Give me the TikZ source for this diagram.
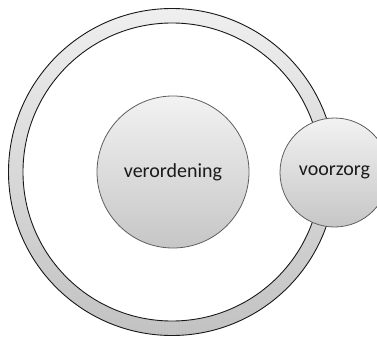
\documentclass[tikz,border=0pt]{standalone}
\usepackage{fontspec}
\setmainfont{Carlito}
\definecolor{ringtop}{HTML}{EFEFEF}
\definecolor{ringbot}{HTML}{C2C2C2}
\definecolor{disctop}{HTML}{F2F2F2}
\definecolor{discbot}{HTML}{C6C6C6}
\definecolor{discline}{HTML}{5E5E5E}
\definecolor{txt}{HTML}{1A1A1A}
\begin{document}
\begin{tikzpicture}[x=1pt,y=-1pt,
  disc/.style={circle, draw=discline, line width=0.8pt, inner sep=0pt,
    top color=disctop, bottom color=discbot, text=txt,
    font=\fontsize{20}{24}\selectfont},
  ringline/.style={draw=black!90, line width=0.9pt}]
\useasboundingbox (0,0) rectangle (377,337);
\clip (0,0) rectangle (377,337);
\fill[white] (0,0) rectangle (377,337);
\coordinate (c) at (172,172);
\shade[top color=ringtop, bottom color=ringbot] (c) circle (163.5);
\fill[white] (c) circle (149);
\draw[ringline] (c) circle (163.5);
\draw[ringline] (c) circle (149);
\node[disc, minimum size=152pt] (ver) at (173,172) {verordening};
\node[disc, minimum size=109pt] (voo) at (334.5,172.5) {voorzorg};
\end{tikzpicture}
\end{document}
